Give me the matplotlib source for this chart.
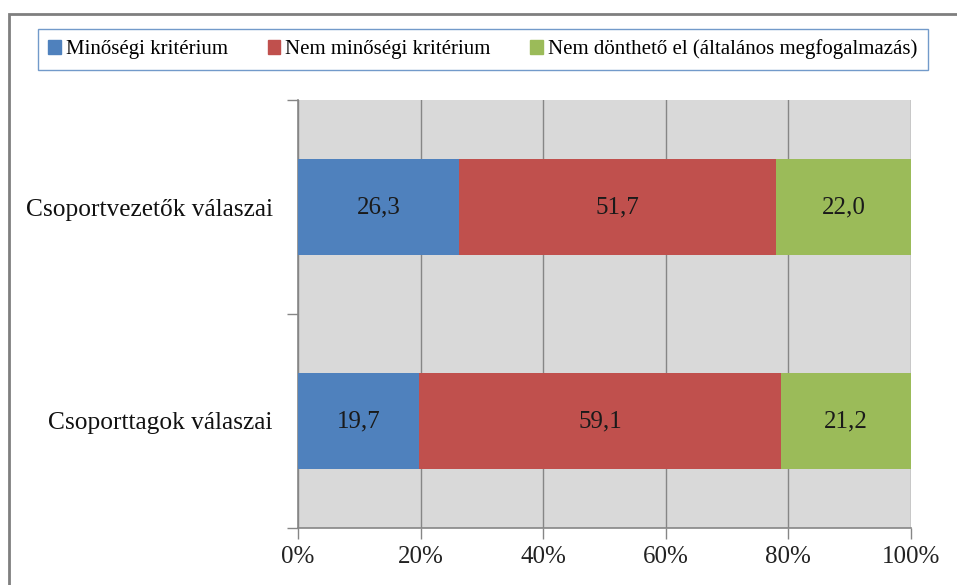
import matplotlib.pyplot as plt
import matplotlib.patches as mpatches
import numpy as np

plt.rcParams['font.family'] = ['Liberation Serif', 'DejaVu Serif']

# data
groups = ['Csoportvezetők válaszai', 'Csoporttagok válaszai']
series = ['Minőségi kritérium', 'Nem minőségi kritérium',
          'Nem dönthető el (általános megfogalmazás)']
minosegi = [26.3, 19.7]
nem_minosegi = [51.7, 59.1]
nem_donheto = [22.0, 21.2]
colors = ['#4F81BD', '#C0504D', '#9BBB59']

fig = plt.figure(figsize=(9.57, 5.85), dpi=100)
ax = fig.add_axes([298 / 957, 1 - 528 / 585, 613 / 957, 428 / 585])
ax.set_facecolor('#D9D9D9')

y = np.array([1, 0])
left = np.zeros(2)
for vals, col, name in zip([minosegi, nem_minosegi, nem_donheto], colors, series):
    vals = np.array(vals)
    ax.barh(y, vals, left=left, height=0.45, color=col, label=name, zorder=3)
    for yi, l, v in zip(y, left, vals):
        ax.text(l + v / 2, yi, f'{v:.1f}'.replace('.', ','), ha='center', va='center',
                fontsize=18, color='#1a1a1a', zorder=4)
    left = left + vals

ax.set_xlim(0, 100)
ax.set_ylim(-0.5, 1.5)
ax.set_xticks([0, 20, 40, 60, 80, 100])
ax.set_xticklabels([f'{t}%' for t in [0, 20, 40, 60, 80, 100]], fontsize=18, color='#222222')
ax.set_yticks([-0.5, 0.5, 1.5])
ax.set_yticklabels([])
ax.set_yticks(y, minor=True)
ax.set_yticklabels(groups, minor=True, fontsize=18.3, color='#111111')
ax.tick_params(axis='y', which='minor', length=0, pad=18)
ax.tick_params(axis='y', which='major', length=8, color='#868686', width=1)
ax.tick_params(axis='x', length=8, color='#868686', width=1, pad=5)
ax.grid(axis='x', color='#868686', linewidth=1, zorder=1)
for s in ['top', 'right']:
    ax.spines[s].set_visible(False)
for s in ['left', 'bottom']:
    ax.spines[s].set_color('#868686')
    ax.spines[s].set_linewidth(1.2)

handles = [mpatches.Patch(color=c, label=n) for c, n in zip(colors, series)]
leg = fig.legend(handles=handles, loc='center', bbox_to_anchor=(483 / 957, 1 - 49.5 / 585),
                 ncol=3, fontsize=15, frameon=True, fancybox=False,
                 handlelength=0.6, handleheight=0.6, handletextpad=0.25,
                 columnspacing=1.9, borderpad=0.5, borderaxespad=0)
leg.get_frame().set_edgecolor('#4F81BD')
leg.get_frame().set_linewidth(1.0)

# outer chart border
fig.add_artist(mpatches.Rectangle((9 / 957, -0.1), 1.2, 1.1 - 14 / 585 + 0.0,
                                  transform=fig.transFigure, fill=False,
                                  edgecolor='#7F7F7F', linewidth=2))

fig.savefig('out.png', dpi=100)
